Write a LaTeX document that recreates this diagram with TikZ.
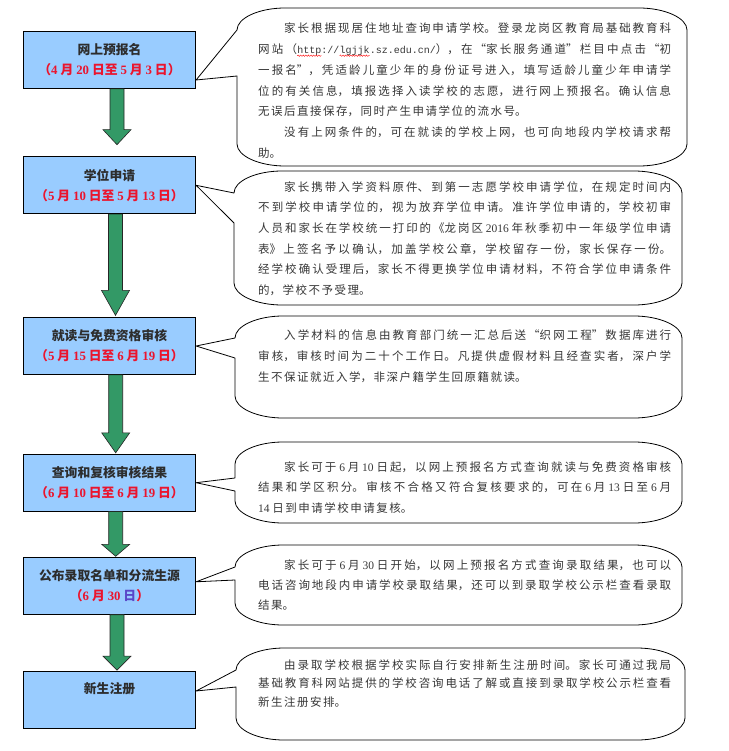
\documentclass[tikz,border=0pt]{standalone}
\usepackage{fontspec}
\setmainfont{Liberation Serif}
\setmonofont{Liberation Mono}
\newfontfamily\cjk{Noto Sans CJK SC}
\usetikzlibrary{calc,decorations.pathmorphing}
\definecolor{boxblue}{RGB}{153,204,255}
\definecolor{agreen}{RGB}{51,153,102}
\definecolor{datered}{RGB}{235,20,45}
\definecolor{datepurple}{RGB}{90,70,200}
\definecolor{txt}{RGB}{55,55,55}
\definecolor{ttl}{RGB}{45,45,45}
\XeTeXlinebreaklocale "zh"
\XeTeXlinebreakskip=1.5pt plus 3pt
\hbadness=10000
\newcommand\redwave[1]{\tikz[baseline=(w.base)]{\node[inner sep=0pt,outer sep=0pt] (w) {#1};
  \draw[red, line width=0.4pt, decorate, decoration={snake,amplitude=0.7pt,segment length=2.6pt}]
  ($(w.base west)+(0pt,-2.2pt)$) -- ($(w.base east)+(0pt,-2.2pt)$);}}
\newcommand\lat[1]{\textrm{#1}}
\newcommand\url[1]{{\ttfamily\fontsize{10}{12}\selectfont #1}}
\newcommand\dtr[1]{\textcolor{datered}{#1}}
\newcommand\ctxt[2]{\parbox[t]{413pt}{\tolerance=10000\fontsize{11.5}{#1}\selectfont #2}}
% block arrow: from, to, head length, gap, x offset
\newcommand\garr[5]{%
  \draw[garrow] let \p1=($(#1.south)+(#5,0)$), \p2=($(#2.north)+(#5,0)$) in
    (\x1-7pt,\y1) -- (\x1-7pt,\y2+#4pt+#3pt) -- (\x1-14pt,\y2+#4pt+#3pt) --
    (\x1,\y2+#4pt) -- (\x1+14pt,\y2+#4pt+#3pt) -- (\x1+7pt,\y2+#4pt+#3pt) --
    (\x1+7pt,\y1) -- cycle;}
% callout: L, T, R, B, upper attach y, lower attach y, tip coordinate
\newcommand\callout[7]{%
  \draw[cbox] (#1,#6) -- (#7) -- (#1,#5) -- (#1,#2+22)
    .. controls (#1,#2+10) and (#1+22,#2) .. (#1+48,#2) -- (#3-48,#2)
    .. controls (#3-22,#2) and (#3,#2+10) .. (#3,#2+22) -- (#3,#4-22)
    .. controls (#3,#4-10) and (#3-22,#4) .. (#3-48,#4) -- (#1+48,#4)
    .. controls (#1+22,#4) and (#1,#4-10) .. (#1,#4-22) -- cycle;}
\begin{document}
\begin{tikzpicture}[x=1pt,y=-1pt,
  box/.style={draw=black, line width=0.8pt, fill=boxblue, minimum width=172.4pt,
    minimum height=57pt, inner sep=0pt, align=center, text=ttl,
    font=\cjk\bfseries\fontsize{12.8}{20}\selectfont},
  garrow/.style={fill=agreen, draw=black!85, line width=0.6pt},
  cbox/.style={draw=black, fill=white, line width=0.8pt, line join=round},
  ctext/.style={anchor=base west, inner sep=0pt, text=txt, font=\cjk}]
\fill[white] (0,0) rectangle (728,751);
\useasboundingbox (0,0) rectangle (728,751);

% boxes
\node[box] (b1) at (109.5,60) {网上预报名\\\dtr{（\lat{4} 月 \lat{20} 日至 \lat{5} 月 \lat{3} 日）}};
\node[box] (b2) at (109.5,185.3) {学位申请\\\dtr{（\lat{5} 月 \lat{10} 日至 \lat{5} 月 \lat{13} 日）}};
\node[box] (b3) at (109.5,346) {就读与免费资格审核\\\dtr{（\lat{5} 月 \lat{15} 日至 \lat{6} 月 \lat{19} 日）}};
\node[box] (b4) at (109.5,482.7) {查询和复核审核结果\\\dtr{（\lat{6} 月 \lat{10} 日至 \lat{6} 月 \lat{19} 日）}};
\node[box] (b5) at (109.5,585.8) {公布录取名单和分流生源\\\dtr{（\lat{6} 月 \lat{30} }\textcolor{datepurple}{日}\dtr{）}};
\node[box, text height=10pt, text depth=22.2pt] (b6) at (109.5,700) {新生注册};

% arrows
\garr{b1}{b2}{15}{11.7}{7.5}
\garr{b2}{b3}{25}{1.7}{6}
\garr{b3}{b4}{20}{1}{6.2}
\garr{b4}{b5}{12}{0.6}{6.2}
\garr{b5}{b6}{14}{1}{7.5}

% callout tips
\coordinate (p1) at ($(b1.east)+(0,20)$);
\coordinate (p2) at (b2.east);
\coordinate (p3) at (b3.east);
\coordinate (p4) at (b4.east);
\coordinate (p5) at ($(b5.east)+(0,-4)$);
\coordinate (p6) at ($(b6.east)+(0,-9)$);

\callout{237}{8}{687}{166}{30}{76}{p1}
\callout{234}{171}{682}{305}{193}{223}{p2}
\callout{235}{316}{682}{418}{338}{358}{p3}
\callout{235}{442}{682}{523}{478}{491}{p4}
\callout{235}{545}{682}{625}{567}{580}{p5}
\callout{236}{648}{685}{740}{670}{687}{p6}

\node[ctext] (t1) at (258,32.7) {\ctxt{20.8}{%
\hspace*{26pt}家长根据现居住地址查询申请学校。登录龙岗区教育局基础教育科\linebreak
网站（\url{\redwave{http}://\redwave{lgjjk}.sz.edu.cn/}），在“家长服务通道”栏目中点击“初\linebreak
一报名”，凭适龄儿童少年的身份证号进入，填写适龄儿童少年申请学\linebreak
位的有关信息，填报选择入读学校的志愿，进行网上预报名。确认信息\linebreak
无误后直接保存，同时产生申请学位的流水号。\par
\hspace*{26pt}没有上网条件的，可在就读的学校上网，也可向地段内学校请求帮\linebreak
助。}};

\node[ctext] (t2) at (258,191.1) {\ctxt{20.7}{%
\hspace*{26pt}家长携带入学资料原件、到第一志愿学校申请学位，在规定时间内\linebreak
不到学校申请学位的，视为放弃学位申请。准许学位申请的，学校初审\linebreak
人员和家长在学校统一打印的《龙岗区 \lat{2016} 年秋季初中一年级学位申请\linebreak
表》上签名予以确认，加盖学校公章，学校留存一份，家长保存一份。\linebreak
经学校确认受理后，家长不得更换学位申请材料，不符合学位申请条件\linebreak
的，学校不予受理。}};

\node[ctext] (t3) at (258,339.4) {\ctxt{20.8}{%
\hspace*{26pt}入学材料的信息由教育部门统一汇总后送“织网工程”数据库进行\linebreak
审核，审核时间为二十个工作日。凡提供虚假材料且经查实者，深户学\linebreak
生不保证就近入学，非深户籍学生回原籍就读。}};

\node[ctext] (t4) at (258,471.1) {\ctxt{20.8}{%
\hspace*{26pt}家长可于 \lat{6} 月 \lat{10} 日起，以网上预报名方式查询就读与免费资格审核\linebreak
结果和学区积分。审核不合格又符合复核要求的，可在 \lat{6} 月 \lat{13} 日至 \lat{6} 月\linebreak
\lat{14} 日到申请学校申请复核。}};

\node[ctext] (t5) at (258,569.4) {\ctxt{20}{%
\hspace*{26pt}家长可于 \lat{6} 月 \lat{30} 日开始，以网上预报名方式查询录取结果，也可以\linebreak
电话咨询地段内申请学校录取结果，还可以到录取学校公示栏查看录取\linebreak
结果。}};

\node[ctext] (t6) at (258,669.4) {\ctxt{18.3}{%
\hspace*{26pt}由录取学校根据学校实际自行安排新生注册时间。家长可通过我局\linebreak
基础教育科网站提供的学校咨询电话了解或直接到录取学校公示栏查看\linebreak
新生注册安排。}};
\end{tikzpicture}
\end{document}
